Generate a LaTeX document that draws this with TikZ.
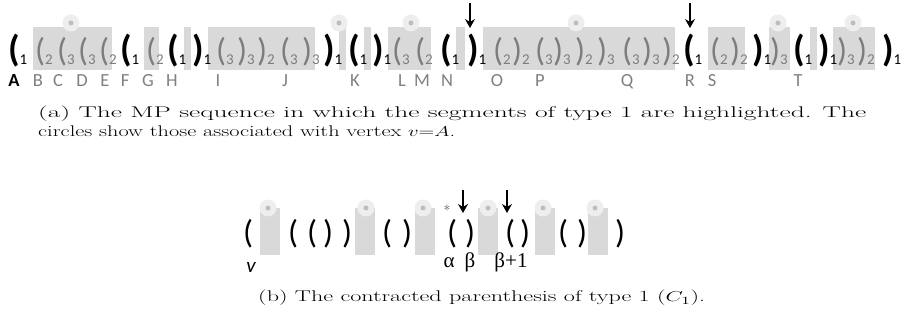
\documentclass[tikz,border=0pt]{standalone}
\usepackage{fontspec}
\setsansfont{Carlito}
\newfontfamily\greekfont{Liberation Serif}
\usepackage{graphicx}
\usepackage{tikz}
\usetikzlibrary{positioning,arrows.meta}
\definecolor{segfill}{RGB}{217,217,217}
\definecolor{ringfill}{RGB}{238,238,238}
\definecolor{dotfill}{RGB}{190,190,190}
\definecolor{pargray}{RGB}{125,125,125}
\definecolor{labgray}{RGB}{128,128,128}
\newcommand{\sub}[1]{\raisebox{-3pt}{\fontsize{15}{15}\selectfont\mdseries #1}}
\newcommand{\pp}[1]{\if#1o(\else)\fi}

\begin{document}
\begin{tikzpicture}[x=1pt, y=-1pt,
    segbox/.style={fill=segfill},
    ring/.style={fill=ringfill},
    blackpar/.style={anchor=base west, inner sep=0pt, font=\sffamily\bfseries\fontsize{37}{37}\selectfont},
    graypar/.style={anchor=base west, inner sep=0pt, text=pargray, font=\sffamily\fontsize{33}{33}\selectfont},
    cpar/.style={anchor=base west, inner sep=0pt, font=\sffamily\fontsize{33}{33}\selectfont},
    lab/.style={anchor=base, inner sep=0pt, text=labgray, font=\sffamily\fontsize{18.5}{18.5}\selectfont},
    caption/.style={anchor=base west, inner sep=0pt, font=\fontsize{15.5}{19}\selectfont},
    greek/.style={anchor=base, inner sep=0pt, font=\greekfont\fontsize{21}{21}\selectfont},
    dnarrow/.style={-{Stealth[length=9pt,width=10pt,inset=3pt]}, line width=1.3pt}]
    \useasboundingbox (0,0) rectangle (905,320);
    \fill[white] (0,0) rectangle (905,320);

    % (a) segments of type 1
    \fill[segbox] (33,27) rectangle (112,70);
    \fill[segbox] (144,27) rectangle (159,70);
    \fill[segbox] (184,27) rectangle (191,70);
    \fill[segbox] (208,27) rectangle (315,70);
    \fill[segbox] (339,27) rectangle (346,70);
    \fill[segbox] (364,27) rectangle (371,70);
    \fill[segbox] (388,27) rectangle (431,70);
    \fill[segbox] (456,27) rectangle (465,70);
    \fill[segbox] (483,27) rectangle (675,70);
    \fill[segbox] (708,27) rectangle (745,70);
    \fill[segbox] (769,27) rectangle (790,70);
    \fill[segbox] (810,27) rectangle (817,70);
    \fill[segbox] (833,27) rectangle (875,70);
    \foreach \x in {71,339,411,576,778,853} {
        \fill[ring] (\x,23) circle (8.5);
        \fill[dotfill] (\x,23) circle (2.5);
    }

    \foreach \x/\p [count=\i] in {8/o,120/o,167/o,192/c,323/c,348/o,372/c,440/o,467/c,683/o,752/c,793/o,818/c,882/c}
        \node[blackpar] (blk\i) at (\x,62) {\pp{\p}\sub{1}};
    \foreach \x/\p/\n [count=\i] in {35/o/2,57/o/3,78/o/3,99/o/2,146/o/2,216/o/3,237/c/3,257/c/2,280/o/3,302/c/3,
        392/o/3,415/o/2,493/o/2,512/c/2,535/o/3,553/c/3,575/c/2,597/c/3,622/o/3,642/c/3,662/c/2,
        710/o/2,730/c/2,770/c/3,837/c/3,857/c/2}
        \node[graypar] (gry\i) at (\x,62) {\pp{\p}\sub{\n}};

    \node[lab, text=black, font=\sffamily\bfseries\fontsize{18.5}{18.5}\selectfont] (vA) at (14,87) {A};
    \foreach \x/\l in {38/B,58/C,82/D,105/E,125/F,148/G,172/H,218/I,285/J,355/K,402/L,422/M,447/N,497/O,540/P,627/Q,690/R,712/S,798/T}
        \node[lab] (lab\l) at (\x,87) {\l};

    \coordinate (arN) at (470,3);
    \coordinate (arR) at (690,3);
    \draw[dnarrow] (arN) -- (arN |- 0,28);
    \draw[dnarrow] (arR) -- (arR |- 0,28);

    \node[caption] (capa) at (38,118) {\resizebox{828pt}{\height}{(a) The MP sequence in which the segments of type 1 are highlighted. The}};
    \node[caption] (capb) at (38,137) {\resizebox{417pt}{\height}{circles show those associated with vertex $v{=}A$.}};

    % (b) contracted parenthesis
    \foreach \x in {260,355,415,478,535,588}
        \fill[segbox] (\x,208) rectangle ++(20,47);
    \foreach \x in {268,366,423,488,543,595} {
        \fill[ring] (\x,208) circle (8.5);
        \fill[dotfill] (\x,208) circle (2.5);
    }
    \foreach \x/\p [count=\i] in {243/o,288/o,307/o,323/c,342/c,382/o,402/c,447/o,465/c,505/o,520/c,558/o,577/c,615/c}
        \node[cpar] (cp\i) at (\x,244) {\pp{\p}};

    \node[inner sep=0pt, text=black!70, font=\fontsize{14}{14}\selectfont] (star) at (447,210) {*};
    \node[anchor=base, inner sep=0pt, font=\sffamily\itshape\fontsize{21}{21}\selectfont] (v) at (251,273) {v};
    \node[greek] (alpha) at (449,268) {α};
    \node[greek] (beta) at (470,268) {β};
    \node[greek] (beta1) at (511,268) {β+1};

    \coordinate (arB) at (463,190);
    \coordinate (arB1) at (507,190);
    \draw[dnarrow] (arB) -- (arB |- 0,213);
    \draw[dnarrow] (arB1) -- (arB1 |- 0,213);

    \node[caption] (capc) at (258,302) {\resizebox{447pt}{\height}{(b) The contracted parenthesis of type 1 ($C_1$).}};
\end{tikzpicture}
\end{document}
